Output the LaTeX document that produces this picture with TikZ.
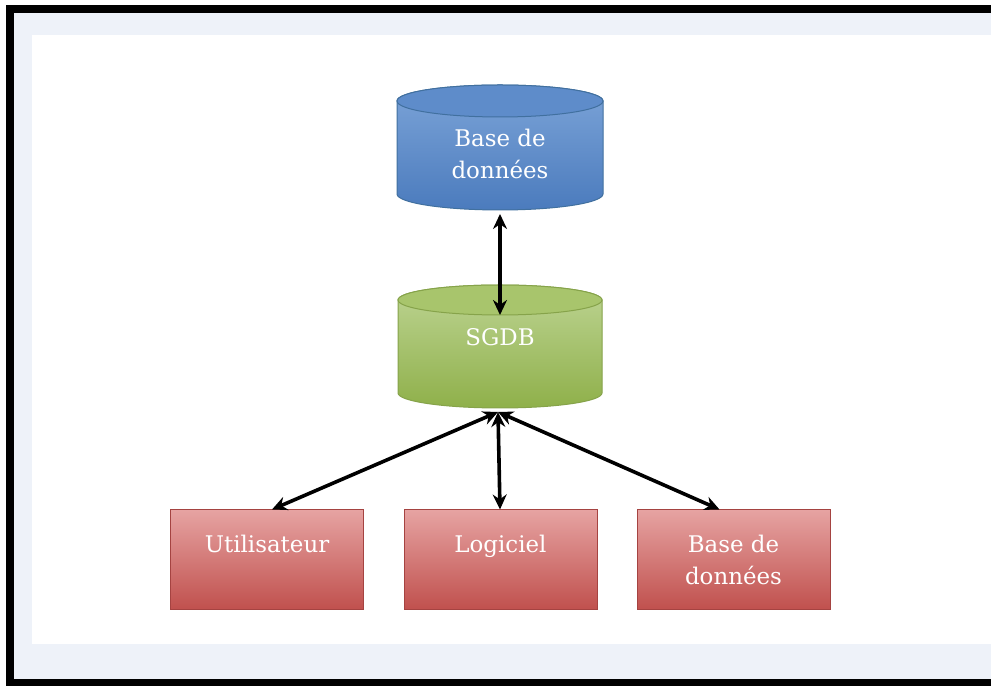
\documentclass[tikz,border=0pt]{standalone}
\usepackage{fontspec}
\setmainfont{DejaVu Serif}
\usetikzlibrary{arrows.meta}

\definecolor{fondbleu}{HTML}{EEF2F9}
\definecolor{bleuhaut}{HTML}{7CA4D8}
\definecolor{bleubas}{HTML}{4B7BBD}
\definecolor{bleucap}{HTML}{5E8CCA}
\definecolor{bleubord}{HTML}{41709F}
\definecolor{verthaut}{HTML}{BDD493}
\definecolor{vertbas}{HTML}{8FB04A}
\definecolor{vertcap}{HTML}{A8C56C}
\definecolor{vertbord}{HTML}{86A34A}
\definecolor{rougehaut}{HTML}{E6A3A2}
\definecolor{rougebas}{HTML}{C0504D}
\definecolor{rougebord}{HTML}{A54341}

\tikzset{
  texte/.style={text=white, align=center, font=\fontsize{23}{32}\selectfont, inner sep=0pt},
  boite/.style={texte, draw=rougebord, line width=1bp, top color=rougehaut, bottom color=rougebas,
    minimum width=193bp, minimum height=100bp},
  fleche/.style={<->, line width=3.6bp, >={Stealth[length=15bp, width=14bp]}}
}

\begin{document}
\begin{tikzpicture}[x=1bp, y=1bp]
        \useasboundingbox (0,0) rectangle (991,686);
        % cadre
        \fill[white] (0,0) rectangle (991,686);
        \fill[black] (6,0) rectangle (991,681);
        \fill[fondbleu] (14,7) rectangle (991,673);
        \fill[white] (32,42) rectangle (991,651);

        % base de donnees (cylindre bleu)
        \shadedraw[top color=bleuhaut, bottom color=bleubas, draw=bleubord, line width=1bp]
            (397,585) -- (397,492) arc[start angle=180, end angle=360, x radius=103, y radius=16]
            -- (603,585) arc[start angle=0, end angle=180, x radius=103, y radius=16] -- cycle;
        \filldraw[fill=bleucap, draw=bleubord, line width=1bp] (500,585) ellipse [x radius=103, y radius=16];
        \node[texte] (bd) at (500,532) {Base de\\données};
        \coordinate (bdbas) at (500,472);

        % SGDB (cylindre vert)
        \shadedraw[top color=verthaut, bottom color=vertbas, draw=vertbord, line width=1bp]
            (398,386) -- (398,293) arc[start angle=180, end angle=360, x radius=102, y radius=15]
            -- (602,386) arc[start angle=0, end angle=180, x radius=102, y radius=15] -- cycle;
        \filldraw[fill=vertcap, draw=vertbord, line width=1bp] (500,386) ellipse [x radius=102, y radius=15];
        \node[texte] (sgdb) at (500,333) {SGDB\\~};
        \coordinate (sgdbhaut) at (500,371);
        \coordinate (sgdbbas) at (498,274);

        % boites
        \node[boite] (util) at (267,126) {Utilisateur\\~};
        \node[boite] (logi) at (500.5,126) {Logiciel\\~};
        \node[boite] (bdd) at (733.5,126) {Base de\\données};

        \draw[fleche] (bdbas) -- (sgdbhaut);
        \draw[fleche] (sgdbbas) -- ([xshift=5bp]util.north);
        \draw[fleche] (sgdbbas) -- ([xshift=-0.5bp]logi.north);
        \draw[fleche] (sgdbbas) -- ([xshift=-14bp]bdd.north);
    \end{tikzpicture}
\end{document}
